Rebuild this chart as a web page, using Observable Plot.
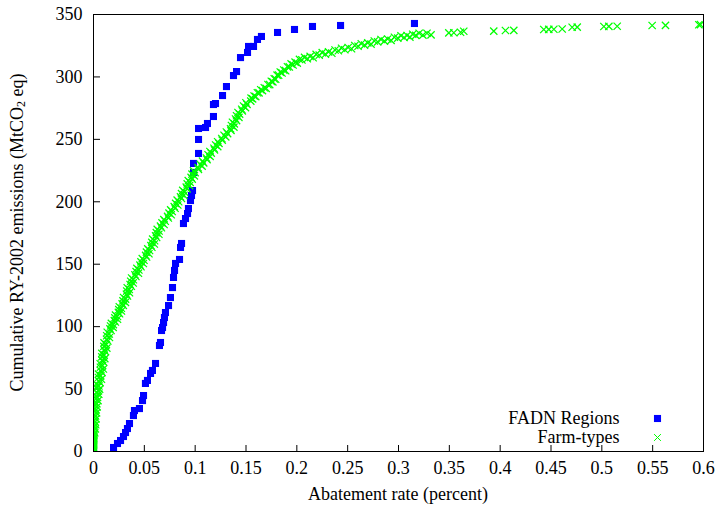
<!DOCTYPE html>
<html><head><meta charset="utf-8">
<script src="https://cdn.jsdelivr.net/npm/d3@7"></script>
<script src="https://cdn.jsdelivr.net/npm/@observablehq/plot@0.6"></script>
<style>html,body{margin:0;padding:0;background:#fff;} svg{display:block}</style>
</head><body><div id="chart"></div>
<script>
const xTicks = [0, 0.05, 0.1, 0.15, 0.2, 0.25, 0.3, 0.35, 0.4, 0.45, 0.5, 0.55, 0.6];
const yTicks = [0, 50, 100, 150, 200, 250, 300, 350];
const seriesNames = ["FADN Regions", "Farm-types"];
const seriesColors = ["#0000ff", "#00ff00"];
const xTitle = "Abatement rate (percent)";
const yTitleParts = ["Cumulative RY-2002 emissions (MtCO", "2", " eq)"];

// [abatement rate, cumulative emissions]
const fadnRegions = [
[0,0],[0.0197,3.2],[0.0236,6.4],[0.0266,8.8],[0.0295,12.0],[0.0315,15.2],[0.0334,18.4],[0.0354,22.4],
[0.0393,28.8],[0.0403,32.8],[0.0452,34.4],[0.0482,40.8],[0.0492,44.8],[0.0511,54.5],[0.0531,56.9],
[0.0561,62.5],[0.0580,64.9],[0.0610,70.5],[0.0649,84.9],[0.0659,87.3],[0.0669,96.9],[0.0679,99.3],
[0.0689,103.3],[0.0698,107.3],[0.0708,111.3],[0.0738,116.9],[0.0757,123.3],[0.0777,131.3],[0.0787,139.4],
[0.0797,145.0],[0.0807,150.6],[0.0846,153.8],[0.0856,163.4],[0.0866,166.6],[0.0885,182.6],[0.0905,186.6],
[0.0925,190.6],[0.0934,194.6],[0.0954,201.0],[0.0964,205.0],[0.0974,209.0],[0.0984,223.5],[0.0984,230.7],
[0.1033,238.7],[0.1033,249.9],[0.1033,258.7],[0.1102,259.5],[0.1121,262.7],[0.1180,268.3],[0.1180,277.9],
[0.1200,278.7],[0.1269,285.1],[0.1308,292.3],[0.1377,301.1],[0.1407,304.3],[0.1446,315.5],[0.1515,319.6],
[0.1525,324.4],[0.1574,324.4],[0.1613,330.0],[0.1652,332.4],[0.1810,335.6],[0.1977,338.0],[0.2154,340.4],
[0.2430,341.2],[0.3157,342.8]
];

const farmTypes = [
[0,0],[0,0.8],[0,1.7],[0,2.5],[0,3.4],[0,4.4],[0,5.3],[0,6.1],[0,7.0],[0,8.0],[0.0001,8.9],[0.0001,9.9],
[0.0002,10.8],[0.0002,11.8],[0.0003,12.9],[0.0003,13.8],[0.0012,14.9],[0.0004,16.0],[0.0001,17.1],[0.0018,18.1],
[0.0006,19.3],[0.0002,20.4],[0.0022,21.4],[0.0004,22.6],[0.0016,23.8],[0.0003,24.9],[0.0025,26.1],[0.0008,27.2],
[0.0020,28.4],[0.0006,29.6],[0.0030,30.9],[0.0011,32.1],[0.0026,33.3],[0.0010,34.6],[0.0036,35.8],[0.0015,37.0],
[0.0033,38.3],[0.0016,39.5],[0.0044,40.8],[0.0021,42.1],[0.0040,43.3],[0.0022,44.6],[0.0052,45.9],[0.0028,47.2],
[0.0049,48.6],
[0.0060,49.9],[0.0030,51.2],[0.0053,52.5],[0.0030,53.9],[0.0065,55.2],[0.0051,56.6],[0.0078,57.9],[0.0049,59.3],
[0.0072,60.7],[0.0049,62.0],[0.0084,63.4],[0.0070,64.8],[0.0097,66.1],[0.0068,67.5],[0.0090,68.9],[0.0066,70.3],
[0.0100,71.6],[0.0084,73.0],[0.0111,74.4],[0.0082,75.8],[0.0105,77.2],[0.0082,78.6],[0.0118,80.0],[0.0104,81.4],
[0.0131,82.8],[0.0102,84.2],[0.0126,85.6],[0.0104,87.0],[0.0141,88.5],[0.0128,89.9],[0.0157,91.3],[0.0130,92.7],
[0.0155,94.1],[0.0135,95.5],[0.0173,96.9],
[0.0162,98.2],[0.0193,99.4],[0.0168,100.5],[0.0195,101.6],[0.0176,102.6],[0.0215,103.7],[0.0205,104.8],
[0.0236,105.9],[0.0210,107.0],[0.0236,108.1],[0.0217,109.2],[0.0256,110.3],[0.0245,111.4],[0.0275,112.5],
[0.0249,113.6],[0.0274,114.7],[0.0254,115.9],[0.0293,117.0],[0.0282,118.2],[0.0314,119.4],[0.0290,120.6],
[0.0315,122.0],[0.0296,123.3],[0.0334,124.6],[0.0324,125.9],[0.0354,127.2],[0.0327,128.5],[0.0352,129.8],
[0.0332,131.1],[0.0372,132.4],[0.0360,133.7],[0.0390,135.0],[0.0366,136.3],[0.0392,137.6],[0.0375,138.9],
[0.0417,140.2],[0.0408,141.5],[0.0442,142.8],[0.0419,144.1],[0.0446,145.4],[0.0427,146.7],[0.0467,148.0],
[0.0457,149.3],[0.0490,150.6],[0.0467,151.9],[0.0496,153.2],[0.0480,154.5],[0.0522,155.8],[0.0513,157.1],
[0.0545,158.4],[0.0521,159.7],[0.0551,161.0],[0.0534,162.3],[0.0574,163.6],[0.0565,164.9],[0.0598,166.2],
[0.0574,167.5],[0.0601,168.8],[0.0582,170.1],[0.0621,171.4],[0.0611,172.7],[0.0643,174.0],[0.0618,175.3],
[0.0645,176.6],[0.0627,177.9],[0.0668,179.2],[0.0659,180.5],[0.0694,181.8],[0.0674,183.1],[0.0706,184.4],
[0.0692,185.7],[0.0736,187.0],[0.0729,188.3],[0.0764,189.6],[0.0743,190.9],[0.0774,192.2],[0.0759,193.5],
[0.0802,194.8],[0.0794,196.1],[0.0829,197.4],[0.0808,198.7],[0.0838,200.0],
[0.0823,201.3],[0.0865,202.6],[0.0856,203.9],[0.0889,205.2],[0.0866,206.5],[0.0895,207.8],[0.0878,209.1],
[0.0920,210.4],[0.0912,211.7],[0.0945,213.0],[0.0922,214.3],[0.0950,215.6],[0.0932,216.9],[0.0971,218.2],
[0.0960,219.5],[0.0992,220.8],[0.0969,222.1],[0.0999,223.4],[0.0984,224.7],[0.1032,226.0],[0.1029,227.3],
[0.1068,228.6],[0.1050,229.9],[0.1084,231.2],[0.1072,232.5],[0.1117,233.8],[0.1111,235.1],[0.1147,236.4],
[0.1127,237.7],[0.1158,239.0],[0.1145,240.3],[0.1190,241.6],[0.1185,242.9],[0.1222,244.2],[0.1202,245.5],
[0.1234,246.8],[0.1221,248.1],[0.1266,249.4],[0.1262,250.7],[0.1301,252.0],[0.1284,253.3],[0.1319,254.6],
[0.1307,255.9],[0.1352,257.2],[0.1348,258.5],[0.1381,259.8],[0.1357,261.1],[0.1385,262.4],[0.1367,263.7],
[0.1407,265.0],[0.1397,266.3],[0.1430,267.6],[0.1407,268.9],[0.1437,270.2],[0.1421,271.5],[0.1464,272.8],
[0.1458,274.1],[0.1495,275.4],[0.1476,276.7],[0.1510,278.0],[0.1499,279.3],[0.1547,280.6],
[0.1550,283.0],[0.1565,282.4],[0.1580,284.7],[0.1596,284.2],[0.1612,287.3],[0.1628,287.2],[0.1645,289.7],
[0.1662,289.0],[0.1680,291.3],[0.1698,290.8],[0.1716,293.9],[0.1733,293.9],[0.1749,296.5],[0.1764,296.0],
[0.1778,298.5],[0.1792,298.2],[0.1806,301.4],[0.1821,301.4],[0.1837,303.9],[0.1854,303.2],[0.1872,305.5],
[0.1890,305.0],[0.1908,308.1],[0.1926,308.0],[0.1944,310.4],[0.1963,309.6],[0.1983,311.8],[0.2004,311.1],
[0.2026,314.0],[0.2050,313.6],[0.2076,315.7],[0.2103,314.6],[0.2131,316.4],[0.2160,315.4],[0.2190,318.0],
[0.2220,317.4],[0.2250,319.4],[0.2281,318.2],[0.2312,320.0],[0.2344,319.0],[0.2376,321.6],[0.2408,321.0],
[0.2440,323.0],[0.2472,321.8],[0.2505,323.6],[0.2538,322.6],[0.2570,325.2],[0.2602,324.6],[0.2634,326.6],
[0.2666,325.5],[0.2698,327.3],[0.2730,326.3],[0.2762,328.8],[0.2795,328.1],[0.2828,330.0],[0.2861,328.7],
[0.2894,330.4],[0.2927,329.3],[0.2960,331.8],[0.2993,331.1],[0.3025,333.0],[0.3055,331.6],[0.3084,333.2],
[0.3112,331.9],[0.3140,334.2],[0.3170,333.3],[0.3203,335.0],[0.3240,333.5],[0.3280,335.0],[0.3320,333.7],
[0.3495,335.3],[0.3544,335.4],[0.3610,335.8],[0.3642,336.6],[0.3937,336.7],[0.4052,337.2],[0.4134,337.3],
[0.4429,338.0],[0.4478,338.1],[0.4528,338.2],[0.4610,338.4],[0.4708,339.8],[0.4758,339.9],[0.5020,340.4],
[0.5069,340.5],[0.5151,340.6],[0.5495,341.2],[0.5626,341.3],[0.5954,341.8],[0.5970,341.9]
];

const W = 719, H = 507, mL = 93, mR = 16, mT = 14, mB = 56;
const fmt = d3.format("~g");

const plot = Plot.plot({
  width: W, height: H,
  marginLeft: mL, marginRight: mR, marginTop: mT, marginBottom: mB,
  style: {fontFamily: "'Liberation Serif', 'Times New Roman', serif", fontSize: "18px", color: "black", background: "white"},
  x: {domain: [0, 0.6], label: null},
  y: {domain: [0, 350], label: null},
  marks: [
    Plot.axisX({ticks: xTicks, tickFormat: fmt, tickSize: -6, tickPadding: 16, label: null}),
    Plot.axisY({ticks: yTicks, tickFormat: fmt, tickSize: -7, tickPadding: 18, label: null}),
    Plot.dot(fadnRegions, {x: d => d[0], y: d => d[1], symbol: "square", r: 4, fill: seriesColors[0], stroke: null, clip: true}),
    Plot.dot(farmTypes, {x: d => d[0], y: d => d[1], symbol: "times", r: 3.4, stroke: seriesColors[1], strokeWidth: 1.25, clip: true}),
    Plot.frame({stroke: "black", strokeWidth: 1}),
    Plot.text([seriesNames[0]], {text: d => d, frameAnchor: "bottom-right", dx: -84, dy: -33, textAnchor: "end", lineAnchor: "middle", fill: "black"}),
    Plot.text([seriesNames[1]], {text: d => d, frameAnchor: "bottom-right", dx: -84, dy: -14, textAnchor: "end", lineAnchor: "middle", fill: "black"}),
    Plot.dot([seriesNames[0]], {frameAnchor: "bottom-right", dx: -46, dy: -33, symbol: "square", r: 4, fill: seriesColors[0]}),
    Plot.dot([seriesNames[1]], {frameAnchor: "bottom-right", dx: -46, dy: -14, symbol: "times", r: 3.2, stroke: seriesColors[1], strokeWidth: 1})
  ]
});

const svg = d3.select(plot);
const cx = mL + (W - mL - mR) / 2;
const cy = mT + (H - mT - mB) / 2;
svg.append("text")
  .attr("x", cx).attr("y", 494)
  .attr("text-anchor", "middle").attr("dominant-baseline", "central")
  .attr("fill", "black")
  .text(xTitle);
const yt = svg.append("text")
  .attr("transform", `translate(17,${cy}) rotate(-90)`)
  .attr("text-anchor", "middle").attr("dominant-baseline", "central")
  .attr("fill", "black");
yt.append("tspan").text(yTitleParts[0]);
yt.append("tspan").attr("font-size", "12px").attr("dy", 4).text(yTitleParts[1]);
yt.append("tspan").attr("dy", -4).text(yTitleParts[2]);

document.getElementById("chart").appendChild(plot);
</script>
</body></html>
